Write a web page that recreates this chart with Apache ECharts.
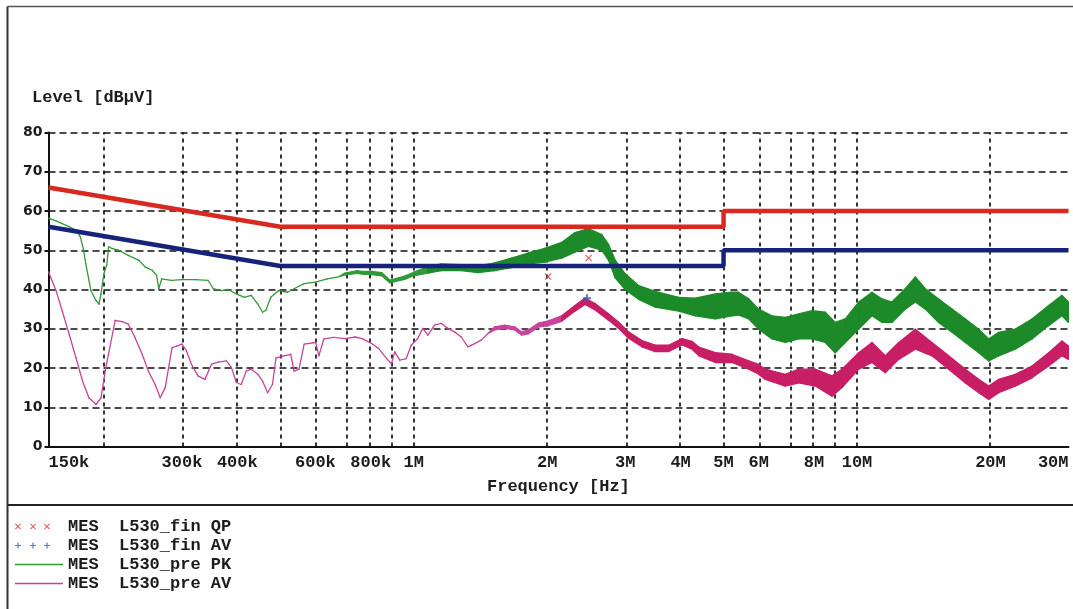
<!DOCTYPE html>
<html>
<head>
<meta charset="utf-8">
<script src="https://cdn.jsdelivr.net/npm/echarts@6/dist/echarts.min.js"></script>
<style>
html,body{margin:0;padding:0;background:#fff;}
#chart{width:1073px;height:609px;}
</style>
</head>
<body>
<div id="chart"></div>
<script>
// ---------- data (frequencies in MHz, levels in dBµV) ----------
const limitQPFreq = [0.15, 0.5, 5, 5, 30];
const limitQPVal  = [66, 56, 56, 60, 60];
const limitAVFreq = [0.15, 0.5, 5, 5, 30];
const limitAVVal  = [56, 46, 46, 50, 50];

const pkFreq = [0.150,0.156,0.161,0.167,0.173,0.177,0.180,0.182,0.187,0.192,0.195,0.197,0.200,0.203,0.205,0.209,0.216,0.227,0.240,0.248,0.257,0.263,0.266,0.270,0.284,0.300,0.321,0.344,0.353,0.368,0.381,0.398,0.415,0.430,0.445,0.456,0.464,0.476,0.495,0.519,0.537,0.566,0.600,0.638,0.679,0.700,0.745,0.765,0.805,0.847,0.883,0.906,0.954,1.000,1.076,1.153,1.280,1.396,1.523,1.661,1.812,1.976,2.156,2.311,2.477,2.656,2.750,2.847,3.000,3.215,3.507,3.960,4.320,4.790,5.220,5.400,5.700,6.000,6.430,6.890,7.390,7.920,8.480,8.930,9.410,10.09,10.81,11.39,11.99,12.85,13.54,14.26,15.28,16.38,17.56,18.82,19.82,20.87,22.76,24.82,27.06,29.00,30.00];
const pkHi = [58.2,57.5,56.8,56.0,55.1,53.4,50.0,46.6,39.7,37.2,36.3,38.9,44.0,46.2,50.9,50.4,50.0,48.7,47.4,45.7,44.9,43.6,40.2,42.7,42.3,42.5,42.5,42.3,40.2,39.7,40.0,38.9,38.0,38.5,36.3,34.2,34.7,38.0,39.7,39.3,40.2,41.5,41.9,42.7,43.3,44.2,44.8,44.6,44.6,44.3,42.4,42.7,43.4,44.4,45.8,46.5,46.3,46.0,46.8,48.0,49.3,50.5,52.0,54.5,55.5,54.0,51.5,47.5,44.0,41.0,39.5,38.0,37.8,38.9,39.3,39.3,37.6,35.0,33.3,32.9,33.8,34.6,34.2,31.6,32.5,36.8,39.3,37.6,36.8,40.2,43.2,40.2,37.6,35.0,32.5,29.9,27.4,29.1,29.9,32.5,35.9,38.5,36.8];
const pkLo = [58.2,57.5,56.8,56.0,55.1,53.4,50.0,46.6,39.7,37.2,36.3,38.9,44.0,46.2,50.9,50.4,50.0,48.7,47.4,45.7,44.9,43.6,40.2,42.7,42.3,42.5,42.5,42.3,40.2,39.7,40.0,38.9,38.0,38.5,36.3,34.2,34.7,38.0,39.7,39.3,40.2,41.5,41.9,42.7,43.3,43.7,44.1,43.9,43.8,43.5,41.7,42.0,42.6,43.5,44.2,44.8,44.8,44.3,44.8,45.6,46.5,47.0,48.0,49.5,51.0,50.0,47.5,43.0,40.0,37.5,35.5,34.5,33.3,32.5,33.3,33.5,32.5,29.9,27.4,26.5,27.4,27.4,26.5,23.9,26.5,29.9,33.3,31.6,31.6,35.0,36.8,35.0,31.6,29.1,26.5,23.9,21.8,23.1,24.8,27.4,30.8,33.3,31.6];

const avFreq = [0.150,0.156,0.161,0.167,0.173,0.179,0.185,0.192,0.197,0.202,0.207,0.212,0.220,0.227,0.235,0.244,0.252,0.261,0.268,0.275,0.285,0.292,0.300,0.307,0.315,0.326,0.338,0.350,0.362,0.378,0.388,0.398,0.408,0.419,0.430,0.445,0.456,0.468,0.480,0.489,0.510,0.528,0.537,0.551,0.566,0.601,0.611,0.627,0.660,0.700,0.739,0.765,0.805,0.833,0.869,0.891,0.906,0.930,0.962,0.987,1.021,1.048,1.076,1.114,1.153,1.194,1.236,1.280,1.325,1.372,1.420,1.471,1.523,1.604,1.690,1.750,1.812,1.909,2.012,2.156,2.311,2.435,2.566,2.750,2.897,3.052,3.272,3.507,3.759,4.030,4.245,4.400,4.790,5.220,5.700,6.000,6.210,6.890,7.390,8.050,8.780,9.250,10.09,10.81,11.58,12.42,13.54,14.76,16.10,17.56,18.82,19.82,20.87,22.76,24.82,27.06,29.00,30.00];
const avHi = [44.5,39.7,34.6,28.6,22.6,16.7,12.4,10.7,12.4,20.1,26.1,32.1,31.8,31.2,27.8,23.5,19.2,15.8,12.4,15.0,25.2,25.6,26.1,24.4,21.0,18.0,17.1,21.0,21.5,21.8,20.1,16.3,15.8,19.2,19.7,18.4,16.7,13.7,15.8,22.6,23.1,23.5,19.2,19.7,26.1,26.5,23.1,27.4,27.8,27.5,27.9,27.5,26.2,25.0,22.4,21.1,24.1,22.0,22.4,25.8,27.5,30.1,28.4,30.9,31.4,30.1,29.2,27.9,25.4,26.2,27.1,28.8,30.5,30.9,30.5,29.2,29.7,31.4,32.0,33.3,35.9,37.8,36.4,33.8,31.7,29.2,27.0,25.8,25.8,27.5,26.8,25.3,23.9,23.5,21.8,20.9,19.7,18.4,19.7,19.7,18.0,19.7,23.9,26.5,23.1,26.5,29.9,26.5,23.1,19.7,17.1,15.4,17.1,18.4,20.5,23.9,26.9,25.6];
const avLo = [44.5,39.7,34.6,28.6,22.6,16.7,12.4,10.7,12.4,20.1,26.1,32.1,31.8,31.2,27.8,23.5,19.2,15.8,12.4,15.0,25.2,25.6,26.1,24.4,21.0,18.0,17.1,21.0,21.5,21.8,20.1,16.3,15.8,19.2,19.7,18.4,16.7,13.7,15.8,22.6,23.1,23.5,19.2,19.7,26.1,26.5,23.1,27.4,27.8,27.5,27.9,27.5,26.2,25.0,22.4,21.1,24.1,22.0,22.4,25.8,27.5,30.1,28.4,30.9,31.4,30.1,29.2,27.9,25.4,26.2,27.1,28.8,29.7,30.1,29.7,28.4,28.7,30.4,30.8,31.9,34.5,36.2,34.8,32.2,30.1,27.6,25.4,24.2,24.2,25.9,24.8,23.1,21.4,21.4,19.7,18.4,17.1,15.4,16.2,15.4,12.8,15.0,19.7,21.4,18.8,22.2,24.8,23.1,19.7,16.2,13.7,12.0,13.7,15.4,17.5,20.5,23.1,22.2];

const qpFinFreq = [2.01, 2.48];
const qpFinVal  = [43.3, 48.0];
const avFinFreq = [2.46];
const avFinVal  = [37.8];

const gridFreqs = [0.2,0.3,0.4,0.5,0.6,0.7,0.8,0.9,1,2,3,4,5,6,7,8,9,10,20,30];
const tickFreqs = [0.15,0.3,0.4,0.6,0.8,1,2,3,4,5,6,8,10,20,30];
const tickLabels = ['150k','300k','400k','600k','800k','1M','2M','3M','4M','5M','6M','8M','10M','20M','30M'];

const names = ['MES  L530_fin QP','MES  L530_fin AV','MES  L530_pre PK','MES  L530_pre AV'];

// ---------- helpers ----------
const LX = f => Math.log10(f * 1e6);
const pairs = (fs, vs) => fs.map((f, i) => [LX(f), vs[i]]);
const FONT = 'Liberation Mono';
const TXT = '#1c1c1c';

function bandSeries(name, fs, hi, lo, lineColor, bandColor) {
  const data = fs.map((f, i) => [LX(f), hi[i], lo[i]]);
  return {
    name: name, type: 'custom', z: 3, clip: true,
    itemStyle: { color: lineColor },
    encode: { x: 0, y: [1, 2] },
    data: data,
    renderItem: function (params, api) {
      const i = params.dataIndex;
      if (i >= data.length - 1) return null;
      const a = data[i], b = data[i + 1];
      const pts = [api.coord([a[0], a[1]]), api.coord([b[0], b[1]]),
                   api.coord([b[0], b[2]]), api.coord([a[0], a[2]])];
      const wide = (a[1] - a[2]) > 1.2 && (b[1] - b[2]) > 1.2;
      const c = wide ? bandColor : lineColor;
      return { type: 'polygon', shape: { points: pts },
               style: { fill: c, stroke: c, lineWidth: 1.3, lineJoin: 'round' } };
    }
  };
}

const xGlyph = (o) => `M${o},1.8L${o+0.8},1L${o+3},3.2L${o+5.2},1L${o+6},1.8L${o+3.8},4L${o+6},6.2L${o+5.2},7L${o+3},4.8L${o+0.8},7L${o},6.2L${o+2.2},4Z`;
const pGlyph = (o) => `M${o+2.4},1H${o+3.6}V3.4H${o+6}V4.6H${o+3.6}V7H${o+2.4}V4.6H${o}V3.4H${o+2.4}Z`;
const BOX = 'M0,0M48,8';
const qpIcon = 'path://' + xGlyph(0) + xGlyph(15) + xGlyph(29) + BOX;
const avIcon = 'path://' + pGlyph(0) + pGlyph(15) + pGlyph(29) + BOX;
const lineIcon = 'path://M0,3.2L48,3.2L48,4.8L0,4.8Z' + BOX;

const chart = echarts.init(document.getElementById('chart'), null, { renderer: 'canvas' });
chart.setOption({
  animation: false,
  backgroundColor: '#ffffff',
  title: [
    { text: 'Level [dBµV]', left: 32, top: 89, padding: 0,
      textStyle: { fontFamily: FONT, fontWeight: 'bold', fontSize: 17, color: TXT } },
    { text: 'Frequency [Hz]', left: 487, top: 478, padding: 0,
      textStyle: { fontFamily: FONT, fontWeight: 'bold', fontSize: 17, color: TXT } }
  ],
  legend: {
    orient: 'vertical', left: 15, top: 518, padding: 0,
    itemWidth: 48, itemHeight: 8, itemGap: 2,
    selectedMode: false,
    textStyle: { fontFamily: FONT, fontWeight: 'bold', fontSize: 17, color: TXT },
    data: [
      { name: names[0], icon: qpIcon },
      { name: names[1], icon: avIcon },
      { name: names[2], icon: lineIcon },
      { name: names[3], icon: lineIcon }
    ]
  },
  grid: { left: 48.5, right: 4.5, top: 132.5, bottom: 162.5, containLabel: false, outerBoundsMode: 'none' },
  xAxis: {
    type: 'value', min: LX(0.15), max: LX(30),
    axisLine: { show: true, onZero: false, lineStyle: { color: '#111', width: 2 } },
    axisTick: { show: false },
    splitLine: { show: false },
    axisLabel: {
      customValues: tickFreqs.map(LX),
      alignMinLabel: 'left', alignMaxLabel: 'right',
      margin: 8,
      fontFamily: FONT, fontWeight: 'bold', fontSize: 17, color: TXT,
      formatter: function (v) {
        let best = 0, d = Infinity;
        tickFreqs.forEach((f, i) => { const e = Math.abs(LX(f) - v); if (e < d) { d = e; best = i; } });
        return tickLabels[best];
      }
    }
  },
  yAxis: {
    type: 'value', min: 0, max: 80, interval: 10,
    axisLine: { show: true, lineStyle: { color: '#111', width: 2 } },
    axisTick: { show: true, length: 4, lineStyle: { color: '#111', width: 2 } },
    axisLabel: { margin: 6, fontFamily: 'DejaVu Sans', fontWeight: 'bold', fontSize: 14, color: TXT },
    splitLine: { show: true, lineStyle: { color: '#111', width: 1.7, type: [7, 4] } }
  },
  graphic: [
    { type: 'line', z: 100, shape: { x1: 7.5, y1: 6.5, x2: 7.5, y2: 609 }, style: { stroke: '#333', lineWidth: 2 } },
    { type: 'line', z: 100, shape: { x1: 7.5, y1: 6.5, x2: 1073, y2: 6.5 }, style: { stroke: '#555', lineWidth: 1.5 } },
    { type: 'line', z: 100, shape: { x1: 7.5, y1: 505, x2: 1073, y2: 505 }, style: { stroke: '#222', lineWidth: 2 } }
  ],
  series: [
    {
      name: 'grid', type: 'line', data: [], silent: true, z: 1,
      markLine: {
        silent: true, symbol: 'none', z: 1, animation: false,
        label: { show: false },
        lineStyle: { color: '#111', width: 1.7, type: [4, 4] },
        data: gridFreqs.map(f => ({ xAxis: LX(f) }))
      }
    },
    bandSeries(names[2], pkFreq, pkHi, pkLo, '#2f9a36', '#1d8a29'),
    bandSeries(names[3], avFreq, avHi, avLo, '#c8449c', '#c81e66'),
    {
      name: 'QP limit', type: 'line', z: 4, symbol: 'none', silent: true,
      lineStyle: { color: '#d8281f', width: 4.5 },
      data: pairs(limitQPFreq, limitQPVal)
    },
    {
      name: 'AV limit', type: 'line', z: 4, symbol: 'none', silent: true,
      lineStyle: { color: '#17227a', width: 4.5 },
      data: pairs(limitAVFreq, limitAVVal)
    },
    {
      name: names[0], type: 'scatter', z: 6,
      symbol: 'path://M0,1L1,0L4,3L7,0L8,1L5,4L8,7L7,8L4,5L1,8L0,7L3,4Z', symbolSize: 7,
      itemStyle: { color: '#e0403a' },
      data: pairs(qpFinFreq, qpFinVal)
    },
    {
      name: names[1], type: 'scatter', z: 6,
      symbol: 'path://M3,0H5V3H8V5H5V8H3V5H0V3H3Z', symbolSize: 8,
      itemStyle: { color: '#3a55b0' },
      data: pairs(avFinFreq, avFinVal)
    }
  ]
});
</script>
</body>
</html>
